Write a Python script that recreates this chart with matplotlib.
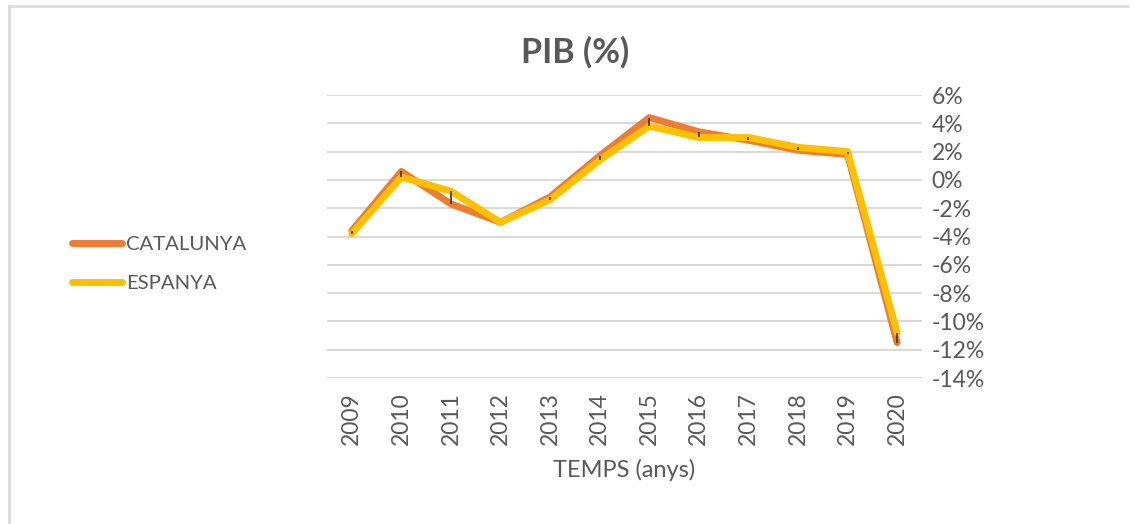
import matplotlib

matplotlib.use("Agg")
import matplotlib.pyplot as plt
from matplotlib.lines import Line2D
from matplotlib.ticker import FuncFormatter

plt.rcParams["font.family"] = ["Lato", "DejaVu Sans"]

years = [2009, 2010, 2011, 2012, 2013, 2014, 2015, 2016, 2017, 2018, 2019, 2020]
catalunya = [-3.6, 0.6, -1.7, -3.0, -1.2, 1.7, 4.4, 3.4, 2.8, 2.1, 1.8, -11.5]
espanya = [-3.8, 0.2, -0.8, -3.0, -1.4, 1.4, 3.8, 3.0, 3.0, 2.3, 2.0, -10.8]
y_ticks = [6, 4, 2, 0, -2, -4, -6, -8, -10, -12, -14]

TEXT = "#595959"
GRID = "#d9d9d9"
C_CAT = "#ed7d31"
C_ESP = "#ffc000"

fig = plt.figure(figsize=(11.34, 5.24), dpi=100)
ax = fig.add_axes([0.2884, 0.2786, 0.5246, 0.5401])

xs = list(range(len(years)))
ax.plot(xs, catalunya, color=C_CAT, lw=5, solid_capstyle="round", solid_joinstyle="round", zorder=3)
ax.plot(xs, espanya, color=C_ESP, lw=5, solid_capstyle="round", solid_joinstyle="round", zorder=4)
# high-low lines between the two series
lo = [min(a, b) for a, b in zip(catalunya, espanya)]
hi = [max(a, b) for a, b in zip(catalunya, espanya)]
ax.vlines(xs, lo, hi, color="#404040", lw=1.3, zorder=5)

ax.set_xlim(-0.5, len(years) - 0.5)
ax.set_ylim(-14, 6)
ax.set_yticks(y_ticks)
ax.yaxis.set_major_formatter(FuncFormatter(lambda v, _: f"{v:.0f}%"))
ax.yaxis.tick_right()
ax.set_xticks(xs)
ax.set_xticklabels([str(y) for y in years], rotation=90)
ax.tick_params(axis="both", length=0, labelsize=16.5, colors=TEXT)
ax.tick_params(axis="y", pad=7)
ax.tick_params(axis="x", pad=10)
for lab in ax.get_yticklabels():
    lab.set_horizontalalignment("left")
ax.grid(axis="y", color=GRID, lw=1.5)
ax.set_axisbelow(True)
for s in ax.spines.values():
    s.set_visible(False)

ax.set_xlabel("TEMPS (anys)", fontsize=17, color=TEXT, labelpad=10)
fig.text(0.507, 0.9, "PIB (%)", fontsize=24.5, fontweight="bold", color=TEXT, ha="center", va="center")

handles = [Line2D([], [], color=C_CAT, lw=5, solid_capstyle="round"),
           Line2D([], [], color=C_ESP, lw=5, solid_capstyle="round")]
fig.legend(handles, ["CATALUNYA", "ESPANYA"], loc="center left", bbox_to_anchor=(0.047, 0.496),
           frameon=False, fontsize=14.6, labelcolor=TEXT, handlelength=2.5, handletextpad=0.2,
           labelspacing=1.1)

# chart area border (top and left edges visible)
fig.add_artist(Line2D([0.0075, 0.995], [0.988, 0.988], color=GRID, lw=1.8, transform=fig.transFigure))
fig.add_artist(Line2D([0.0075, 0.0075], [0.0, 0.988], color=GRID, lw=1.8, transform=fig.transFigure))

fig.savefig("out.png", dpi=100)
